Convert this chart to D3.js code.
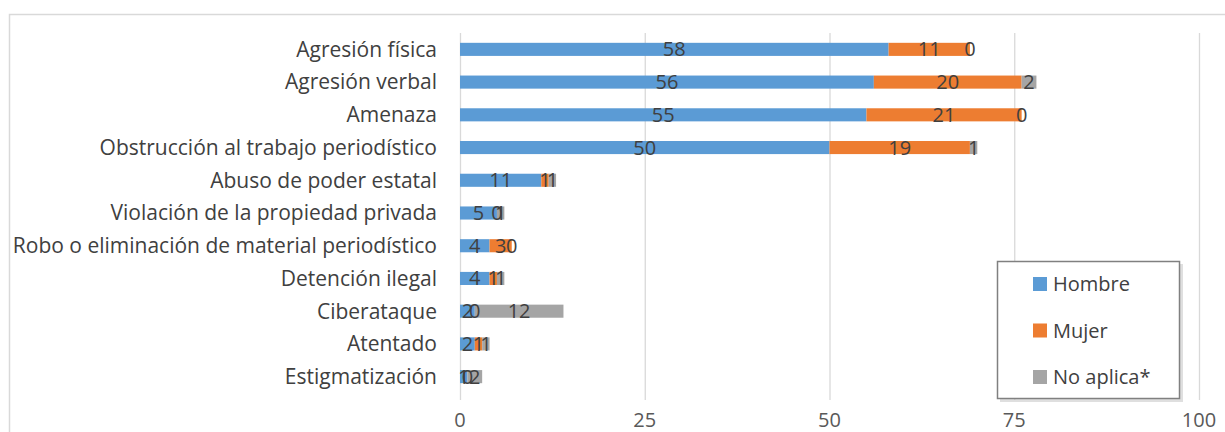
<!DOCTYPE html>
<html>
<head>
<meta charset="utf-8">
<script src="https://cdn.jsdelivr.net/npm/d3@7"></script>
<style>
  body { margin: 0; background: #fff; }
  text { font-family: "Open Sans", Carlito, Calibri, sans-serif; }
</style>
</head>
<body>
<div id="chart"></div>
<script>
// Categorías y series
const categories = [
    "Agresión física",
    "Agresión verbal",
    "Amenaza",
    "Obstrucción al trabajo periodístico",
    "Abuso de poder estatal",
    "Violación de la propiedad privada",
    "Robo o eliminación de material periodístico",
    "Detención ilegal",
    "Ciberataque",
    "Atentado",
    "Estigmatización"
];
const hombre = [58, 56, 55, 50, 11, 5, 4, 4, 2, 2, 1];
const mujer = [11, 20, 21, 19, 1, 0, 3, 1, 0, 1, 0];
const noAplica = [0, 2, 0, 1, 1, 1, 0, 1, 12, 1, 2];
const seriesNames = ["Hombre", "Mujer", "No aplica*"];
const xTicks = [0, 25, 50, 75, 100];

const colors = ["#5b9bd5", "#ed7d31", "#a5a5a5"];
const W = 1225, H = 432;

const rows = categories.map((c, i) => ({
    cat: c, "Hombre": hombre[i], "Mujer": mujer[i], "No aplica*": noAplica[i]
}));

const svg = d3.select("#chart").append("svg")
    .attr("width", W).attr("height", H);

// Marco del gráfico
svg.append("rect")
    .attr("x", 9.5).attr("y", 14.5)
    .attr("width", W).attr("height", H)
    .attr("fill", "#fff").attr("stroke", "#d9d9d9").attr("stroke-width", 1.5);

const x = d3.scaleLinear().domain([0, 100]).range([460, 1199]);
const y = d3.scaleBand().domain(categories).range([33, 393]).paddingInner(0.6).paddingOuter(0.3);

// Líneas de cuadrícula
svg.append("g").selectAll("line")
    .data(xTicks)
    .enter().append("line")
    .attr("x1", d => x(d) + 0.5).attr("x2", d => x(d) + 0.5)
    .attr("y1", 33).attr("y2", 400)
    .attr("stroke", "#d9d9d9").attr("stroke-width", 1.3);

// Etiquetas eje X
svg.append("g").selectAll("text")
    .data(xTicks)
    .enter().append("text")
    .attr("x", d => x(d))
    .attr("y", 427)
    .attr("text-anchor", "middle")
    .attr("font-size", "20px")
    .attr("fill", "#595959")
    .text(d => d);

// Etiquetas de categorías
svg.append("g").selectAll("text")
    .data(categories)
    .enter().append("text")
    .attr("x", 437)
    .attr("y", d => y(d) + y.bandwidth() / 2)
    .attr("dy", "0.35em")
    .attr("text-anchor", "end")
    .attr("font-size", "21px")
    .attr("fill", "#404040")
    .text(d => d);

const stacked = d3.stack().keys(seriesNames)(rows);

const layers = svg.append("g").selectAll("g")
    .data(stacked)
    .enter().append("g")
    .attr("fill", (d, i) => colors[i]);

layers.selectAll("rect")
    .data(d => d)
    .enter().append("rect")
    .attr("x", d => x(d[0]))
    .attr("y", d => y(d.data.cat))
    .attr("width", d => x(d[1]) - x(d[0]))
    .attr("height", y.bandwidth());

// Etiquetas de datos
const labels = svg.append("g");
stacked.forEach(layer => {
    labels.selectAll(null)
        .data(layer)
        .enter().append("text")
        .attr("x", d => (x(d[0]) + x(d[1])) / 2)
        .attr("y", d => y(d.data.cat) + y.bandwidth() / 2)
        .attr("dy", "0.35em")
        .attr("text-anchor", "middle")
        .attr("font-size", "20px")
        .attr("fill", "#404040")
        .text(d => d[1] - d[0]);
});

// Leyenda
const leg = svg.append("g");
leg.append("rect")
    .attr("x", 1000).attr("y", 264).attr("width", 183).attr("height", 138)
    .attr("fill", "#bfbfbf").attr("opacity", 0.5);
leg.append("rect")
    .attr("x", 997.5).attr("y", 261.5).attr("width", 182).attr("height", 137)
    .attr("fill", "#fff").attr("stroke", "#808080").attr("stroke-width", 1.5);

const legItems = leg.selectAll("g.item")
    .data(seriesNames)
    .enter().append("g")
    .attr("class", "item")
    .attr("transform", (d, i) => `translate(1033,${284 + i * 46.5})`);
legItems.append("rect")
    .attr("x", 0).attr("y", -7).attr("width", 14).attr("height", 14)
    .attr("fill", (d, i) => colors[i]);
legItems.append("text")
    .attr("x", 20).attr("y", 0).attr("dy", "0.35em")
    .attr("font-size", "20px")
    .attr("fill", "#404040")
    .text(d => d);
</script>
</body>
</html>
